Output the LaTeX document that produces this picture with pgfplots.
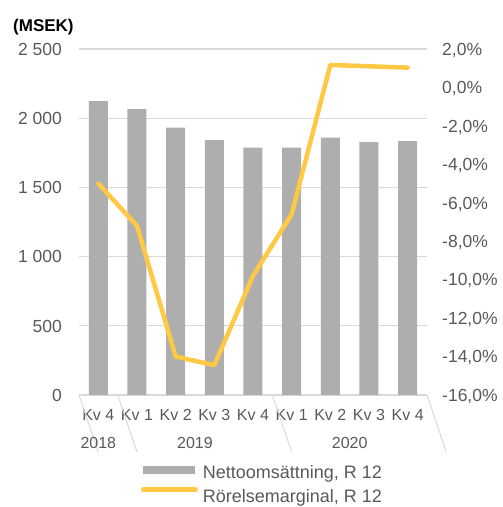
\documentclass[border=0pt]{standalone}
\usepackage{pgfplots}
\pgfplotsset{compat=1.18}
\usepackage{fontspec}
\setmainfont{Liberation Sans}
\definecolor{txt}{HTML}{595959}
\definecolor{gridc}{HTML}{D9D9D9}
\definecolor{barc}{HTML}{ADAEAD}
\definecolor{linec}{HTML}{FFC845}
\begin{document}
\begin{tikzpicture}
\useasboundingbox (0,0) rectangle (503bp,507bp);
\node[anchor=base west, inner sep=0pt, font=\fontsize{17bp}{20bp}\selectfont\bfseries, text=black] at (13bp,475bp) {(MSEK)};
\begin{axis}[
  at={(79bp,112bp)}, anchor=south west,
  scale only axis, width=348bp, height=346bp,
  clip=false,
  xmin=-0.5, xmax=8.5, ymin=0, ymax=2500,
  axis x line*=bottom, axis y line*=left,
  x axis line style={draw=gridc, line width=1bp, -},
  y axis line style={draw=none},
  ytick={0,500,1000,1500,2000,2500},
  yticklabels={0,500,1 000,1 500,2 000,2 500},
  ymajorgrids, grid style={gridc, line width=1.3bp},
  major tick length=0pt,
  xtick style={draw=none}, ytick style={draw=none},
  yticklabel style={font=\fontsize{17.5bp}{20bp}\selectfont, text=txt, anchor=east, inner sep=0pt, text height=12.5bp, text depth=0pt, xshift=-17bp},
  xtick={0,1,2,3,4,5,6,7,8},
  xticklabels={Kv 4,Kv 1,Kv 2,Kv 3,Kv 4,Kv 1,Kv 2,Kv 3,Kv 4},
  xticklabel style={font=\fontsize{16bp}{19bp}\selectfont, text=txt, anchor=base, inner sep=0pt, yshift=-25bp},
  legend style={at={(0.178,-0.205)}, anchor=north west, draw=none, fill=none, inner sep=0pt, outer sep=0pt,
    font=\fontsize{18bp}{21bp}\selectfont, text=txt, column sep=5bp, row sep=4.5bp,
    nodes={inner sep=0pt, text height=13bp, text depth=4bp}},
  legend cell align=left,
]
\addplot[ybar, bar width=19bp, fill=barc, draw=none,
  legend image code/.code={\fill[barc] (0bp,0bp) rectangle (52bp,8.4bp);}]
  coordinates {(0,2124) (1,2066) (2,1931) (3,1842) (4,1787) (5,1787) (6,1859) (7,1828) (8,1835)};
\addlegendentry{Nettoomsättning, R 12}
\addlegendimage{legend image code/.code={\draw[linec, line width=5bp, line cap=round] (0bp,7.7bp) -- (52bp,7.7bp);}}
\addlegendentry{Rörelsemarginal, R 12}
\draw[gridc, line width=1bp] (axis cs:-0.5,0) -- ++(0,-57bp);
\draw[gridc, line width=1bp] (axis cs:0.5,0) -- ++(0,-57bp);
\draw[gridc, line width=1bp] (axis cs:4.5,0) -- ++(0,-57bp);
\draw[gridc, line width=1bp] (axis cs:8.5,0) -- ++(0,-57bp);
\node[anchor=base, inner sep=0pt, font=\fontsize{16bp}{19bp}\selectfont, text=txt] at (axis cs:0,0) [yshift=-53bp] {2018};
\node[anchor=base, inner sep=0pt, font=\fontsize{16bp}{19bp}\selectfont, text=txt] at (axis cs:2.5,0) [yshift=-53bp] {2019};
\node[anchor=base, inner sep=0pt, font=\fontsize{16bp}{19bp}\selectfont, text=txt] at (axis cs:6.5,0) [yshift=-53bp] {2020};
\end{axis}
\begin{axis}[
  at={(79bp,112bp)}, anchor=south west,
  scale only axis, width=348bp, height=346bp,
  xmin=-0.5, xmax=8.5, ymin=-16, ymax=2,
  axis x line=none, axis y line*=right,
  y axis line style={draw=none},
  major tick length=0pt, ytick style={draw=none},
  ytick={-16,-14,-12,-10,-8,-6,-4,-2,0,2},
  yticklabels={{-16,0\%},{-14,0\%},{-12,0\%},{-10,0\%},{-8,0\%},{-6,0\%},{-4,0\%},{-2,0\%},{0,0\%},{2,0\%}},
  yticklabel style={font=\fontsize{17.5bp}{20bp}\selectfont, text=txt, anchor=west, inner sep=0pt, text height=12.5bp, text depth=0pt, xshift=15bp},
]
\addplot[linec, line width=4.5bp, line join=round, line cap=round, mark=none]
  coordinates {(0,-5.0) (1,-7.2) (2,-14.0) (3,-14.45) (4,-9.8) (5,-6.6) (6,1.17) (7,1.1) (8,1.03)};
\end{axis}
\end{tikzpicture}
\end{document}
